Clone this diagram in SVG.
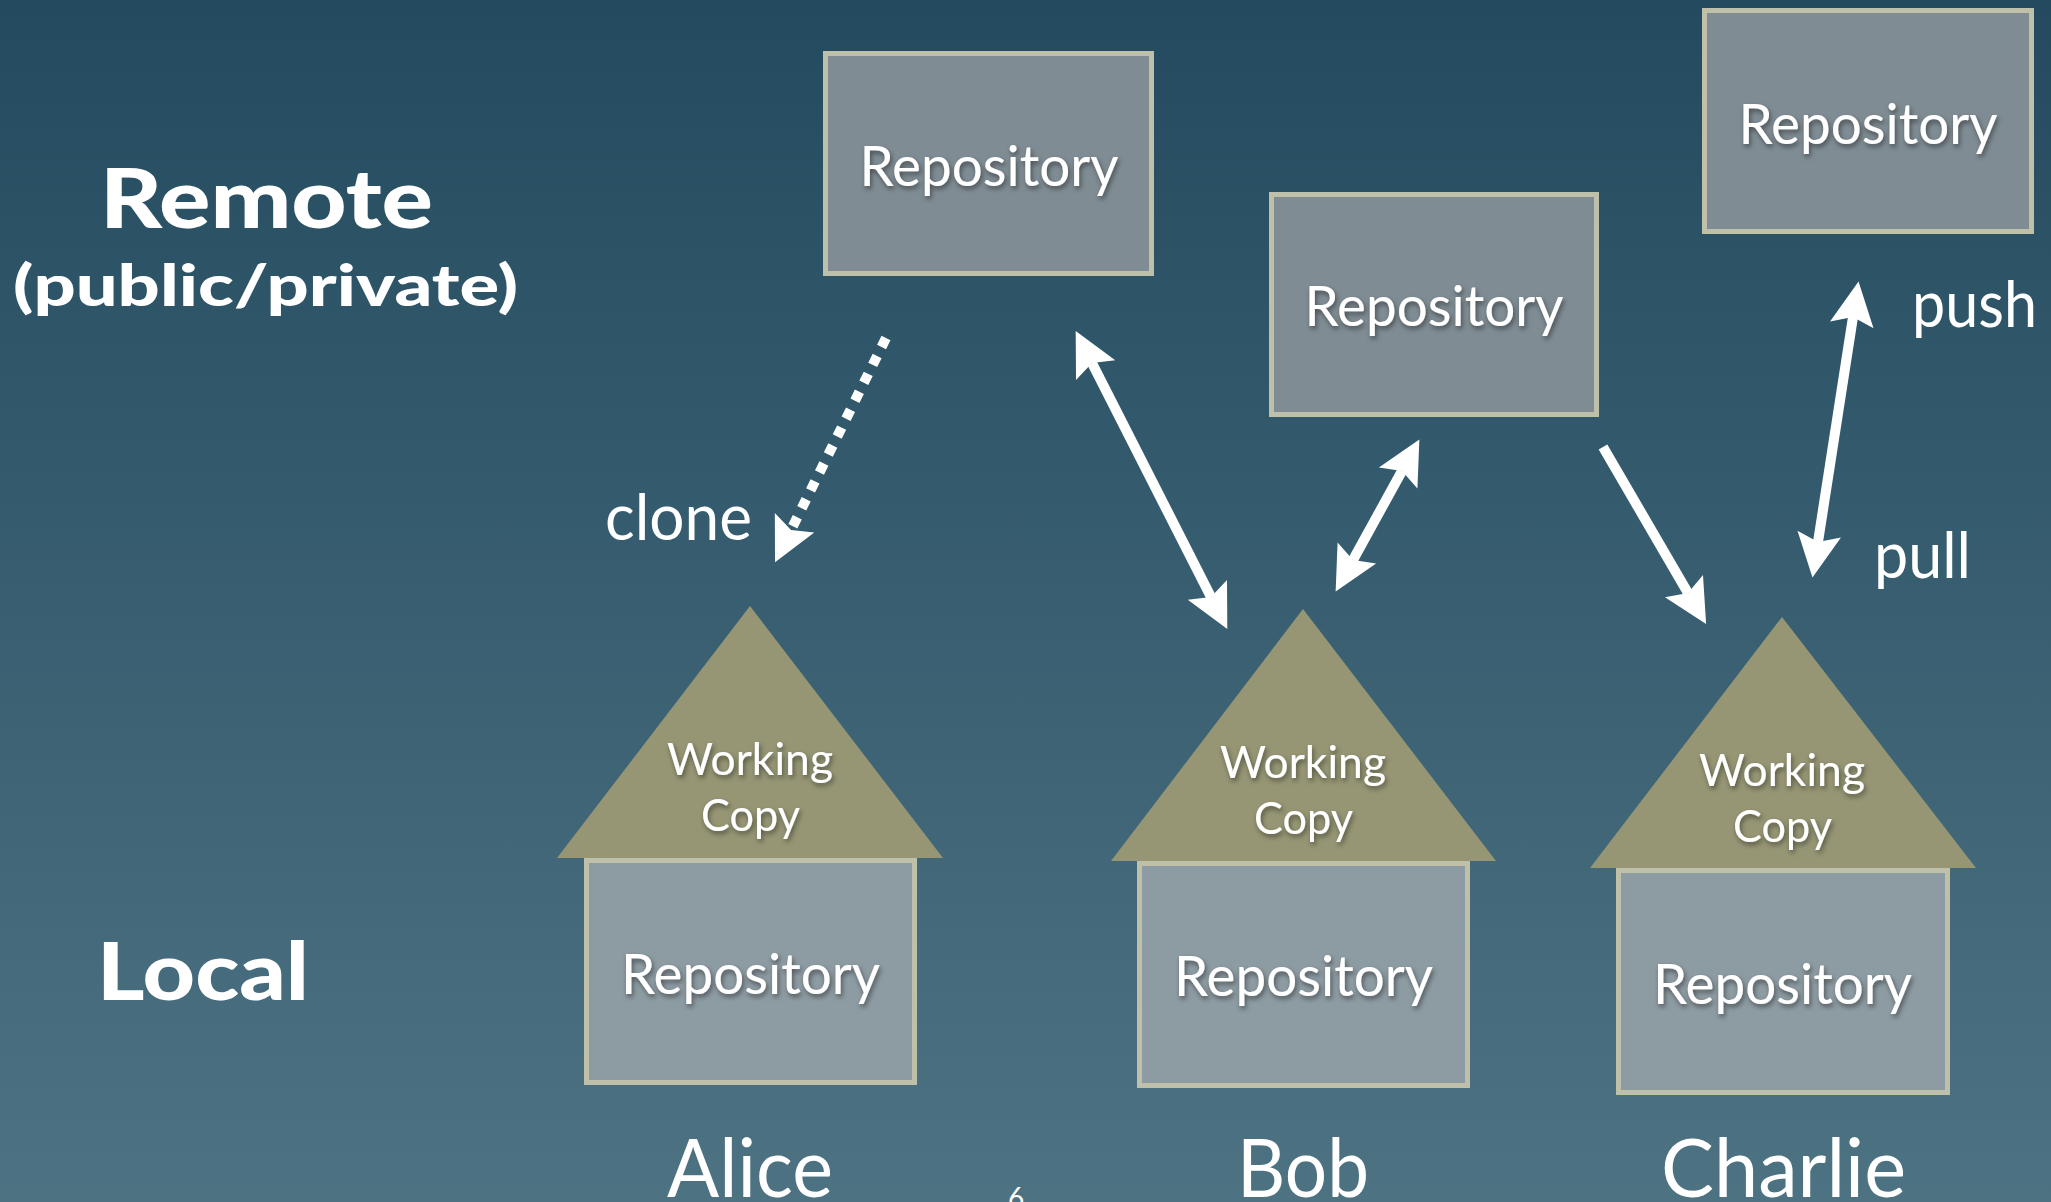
<svg xmlns="http://www.w3.org/2000/svg" width="2051" height="1202" viewBox="0 0 2051 1202">
  <defs>
    <linearGradient id="bg" x1="0" y1="0" x2="0" y2="1">
      <stop offset="0" stop-color="#234a5e"/>
      <stop offset="1" stop-color="#4d7383"/>
    </linearGradient>
    <filter id="ts" x="-20%" y="-40%" width="140%" height="180%">
      <feDropShadow dx="1.5" dy="3" stdDeviation="2.5" flood-color="#000" flood-opacity="0.45"/>
    </filter>
    <marker id="ah" markerUnits="userSpaceOnUse" viewBox="-10 -25 50 50" refX="0" refY="0" markerWidth="50" markerHeight="50" orient="auto-start-reverse" overflow="visible">
      <path d="M36,0 L-8,-22 L0,0 L-8,22 Z" fill="#ffffff"/>
    </marker>
    <style>
      text { font-family: "Lato", "Liberation Sans", sans-serif; fill: #ffffff; }
      .lbl { font-weight: 900; }
      .box { stroke: #bfc0a9; stroke-width: 5; }
      .rbox { fill: #7f8c93; }
      .lbox { fill: #8d9ba2; }
      .roof { fill: #969675; }
      .repo { font-size: 57px; filter: url(#ts); }
      .wc { font-size: 45px; filter: url(#ts); }
      .name { font-size: 82px; }
      .act { font-size: 64px; }
      .conn { stroke: #ffffff; stroke-width: 10; fill: none; }
    </style>
  </defs>

  <rect x="0" y="0" width="2051" height="1202" fill="url(#bg)"/>

  <g id="labels">
    <text class="lbl" x="100" y="228" font-size="81" textLength="333" lengthAdjust="spacingAndGlyphs">Remote</text>
    <text class="lbl" x="13" y="306" font-size="58" textLength="505" lengthAdjust="spacingAndGlyphs">(public/private)</text>
    <text class="lbl" x="97" y="1000" font-size="80" textLength="212" lengthAdjust="spacingAndGlyphs">Local</text>
  </g>

  <g id="remote-repo-1">
    <rect class="box rbox" x="825.5" y="53.5" width="326" height="220"/>
    <text class="repo" x="859.5" y="186" textLength="259" lengthAdjust="spacingAndGlyphs">Repository</text>
  </g>
  <g id="remote-repo-2">
    <rect class="box rbox" x="1271.5" y="194.5" width="325" height="220"/>
    <text class="repo" x="1304.5" y="326" textLength="259" lengthAdjust="spacingAndGlyphs">Repository</text>
  </g>
  <g id="remote-repo-3">
    <rect class="box rbox" x="1704.5" y="10.5" width="327" height="221"/>
    <text class="repo" x="1738.5" y="144" textLength="259" lengthAdjust="spacingAndGlyphs">Repository</text>
  </g>

  <g id="alice">
    <rect class="box lbox" x="586.5" y="860.5" width="328" height="222"/>
    <polygon class="roof" points="750,606 943,858 557,858"/>
    <text class="wc" x="667" y="775" textLength="166" lengthAdjust="spacingAndGlyphs">Working</text>
    <text class="wc" x="701" y="831" textLength="99" lengthAdjust="spacingAndGlyphs">Copy</text>
    <text class="repo" x="621" y="994" textLength="259" lengthAdjust="spacingAndGlyphs">Repository</text>
    <text class="name" x="667" y="1197" textLength="166" lengthAdjust="spacingAndGlyphs">Alice</text>
  </g>

  <g id="bob">
    <rect class="box lbox" x="1139.5" y="863.5" width="328" height="222"/>
    <polygon class="roof" points="1303,609 1496,861 1111,861"/>
    <text class="wc" x="1220" y="778" textLength="166" lengthAdjust="spacingAndGlyphs">Working</text>
    <text class="wc" x="1254" y="834" textLength="99" lengthAdjust="spacingAndGlyphs">Copy</text>
    <text class="repo" x="1174" y="996" textLength="259" lengthAdjust="spacingAndGlyphs">Repository</text>
    <text class="name" x="1237" y="1197" textLength="132" lengthAdjust="spacingAndGlyphs">Bob</text>
  </g>

  <g id="charlie">
    <rect class="box lbox" x="1618.5" y="870.5" width="329" height="222"/>
    <polygon class="roof" points="1782,617 1976,868 1590,868"/>
    <text class="wc" x="1699" y="786" textLength="166" lengthAdjust="spacingAndGlyphs">Working</text>
    <text class="wc" x="1733" y="842" textLength="99" lengthAdjust="spacingAndGlyphs">Copy</text>
    <text class="repo" x="1653" y="1004" textLength="259" lengthAdjust="spacingAndGlyphs">Repository</text>
    <text class="name" x="1661" y="1197" textLength="245" lengthAdjust="spacingAndGlyphs">Charlie</text>
  </g>

  <g id="connectors">
    <line class="conn" x1="886" y1="338" x2="791" y2="530" stroke-dasharray="10 10" marker-end="url(#ah)"/>
    <line class="conn" x1="1092" y1="363" x2="1211" y2="597" marker-start="url(#ah)" marker-end="url(#ah)"/>
    <line class="conn" x1="1353" y1="560" x2="1402" y2="471" marker-start="url(#ah)" marker-end="url(#ah)"/>
    <line class="conn" x1="1603" y1="447" x2="1688" y2="593" marker-end="url(#ah)"/>
    <line class="conn" x1="1818" y1="542" x2="1853" y2="317" marker-start="url(#ah)" marker-end="url(#ah)"/>
  </g>

  <g id="connector-labels">
    <text class="act" x="605" y="540" textLength="147" lengthAdjust="spacingAndGlyphs">clone</text>
    <text class="act" x="1912" y="327" textLength="125" lengthAdjust="spacingAndGlyphs">push</text>
    <text class="act" x="1874" y="578" textLength="97" lengthAdjust="spacingAndGlyphs">pull</text>
  </g>

  <text x="1016" y="1208" font-size="28" text-anchor="middle">6</text>
</svg>
